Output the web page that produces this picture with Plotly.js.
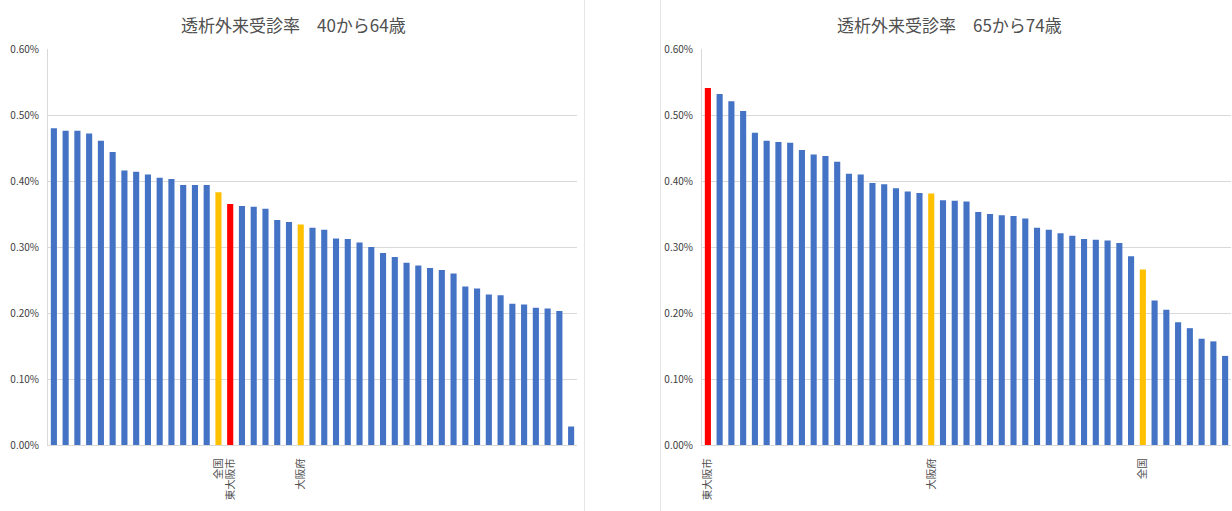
<!DOCTYPE html>
<html>
<head>
<meta charset="utf-8">
<script src="https://cdn.plot.ly/plotly-3.0.1.min.js"></script>
<style>html,body{margin:0;padding:0;background:#fff;}#chart{width:1232px;height:511px;}</style>
</head>
<body>
<div id="chart"></div>
<script>
// ---- Data (values in %) ----
const title1 = '透析外来受診率　40から64歳';
const title2 = '透析外来受診率　65から74歳';

const labels1 = ['', '', '', '', '', '', '', '', '', '', '', '', '', '', '全国', '東大阪市', '', '', '', '', '', '大阪府', '', '', '', '', '', '', '', '', '', '', '', '', '', '', '', '', '', '', '', '', '', '', ''];
const values1 = [0.480, 0.476, 0.476, 0.472, 0.461, 0.444, 0.416, 0.414, 0.410, 0.405, 0.403, 0.394, 0.394, 0.394, 0.383, 0.365, 0.362, 0.361, 0.358, 0.341, 0.338, 0.334, 0.329, 0.326, 0.313, 0.312, 0.307, 0.300, 0.291, 0.285, 0.276, 0.272, 0.268, 0.265, 0.260, 0.240, 0.237, 0.228, 0.227, 0.214, 0.213, 0.208, 0.207, 0.203, 0.028];

const labels2 = ['東大阪市', '', '', '', '', '', '', '', '', '', '', '', '', '', '', '', '', '', '', '大阪府', '', '', '', '', '', '', '', '', '', '', '', '', '', '', '', '', '', '全国', '', '', '', '', '', '', ''];
const values2 = [0.541, 0.532, 0.521, 0.506, 0.473, 0.461, 0.459, 0.458, 0.447, 0.440, 0.438, 0.429, 0.411, 0.410, 0.397, 0.395, 0.389, 0.384, 0.382, 0.381, 0.371, 0.370, 0.369, 0.353, 0.350, 0.348, 0.347, 0.343, 0.329, 0.326, 0.321, 0.317, 0.312, 0.311, 0.310, 0.306, 0.286, 0.266, 0.219, 0.205, 0.186, 0.177, 0.161, 0.157, 0.135];

// ---- Styles ----
const BLUE = '#4472C4', RED = '#FF0000', YELLOW = '#FFC000';
const highlight = {'東大阪市': RED, '全国': YELLOW, '大阪府': YELLOW};
const colorsFor = labels => labels.map(l => highlight[l] || BLUE);
const idx = labels => labels.map((_, i) => i);
const tickIdx = labels => idx(labels).filter(i => labels[i] !== '');
const tickTxt = labels => labels.filter(l => l !== '');

const W = 1232, H = 511;
const px = v => v / W;
const py = v => (H - v) / H;
const FONT = 'Noto Sans CJK JP, Liberation Sans, sans-serif';
const GRID = '#d9d9d9';

function yAxis() {
  return {
    range: [0, 0.6], dtick: 0.1, tickformat: '.2f', ticksuffix: '%',
    showgrid: true, gridcolor: GRID, gridwidth: 1,
    showline: true, linecolor: GRID, linewidth: 1,
    zeroline: false, ticks: '', ticklabelstandoff: 6,
    tickfont: {size: 10, color: '#404040', family: FONT},
    domain: [py(445), py(49)], fixedrange: true
  };
}
function xAxis(domainX, labels, anchor) {
  return {
    domain: domainX, anchor: anchor,
    range: [-0.5, labels.length - 0.5],
    tickmode: 'array', tickvals: tickIdx(labels), ticktext: tickTxt(labels),
    tickangle: -90, ticks: '', ticklabelstandoff: 8,
    showgrid: false, showline: true, linecolor: GRID, linewidth: 1, zeroline: false,
    tickfont: {size: 10.5, color: '#505050', family: FONT}, fixedrange: true
  };
}

const traces = [
  {type: 'bar', x: idx(labels1), y: values1, marker: {color: colorsFor(labels1)}, xaxis: 'x', yaxis: 'y', hoverinfo: 'skip'},
  {type: 'bar', x: idx(labels2), y: values2, marker: {color: colorsFor(labels2)}, xaxis: 'x2', yaxis: 'y2', hoverinfo: 'skip'}
];

const dom1 = [px(48), px(577)];
const dom2 = [px(702), px(1231)];

const layout = {
  width: W, height: H,
  margin: {l: 0, r: 0, t: 0, b: 0},
  paper_bgcolor: '#ffffff', plot_bgcolor: '#ffffff',
  showlegend: false, bargap: 0.48,
  font: {family: FONT, color: '#595959'},
  xaxis: xAxis(dom1, labels1, 'y'),
  yaxis: Object.assign(yAxis(), {anchor: 'x'}),
  xaxis2: xAxis(dom2, labels2, 'y2'),
  yaxis2: Object.assign(yAxis(), {anchor: 'x2'}),
  annotations: [
    {text: title1, xref: 'paper', yref: 'paper', x: px(293), y: py(24), xanchor: 'center', yanchor: 'middle', showarrow: false, font: {size: 17, color: '#505050', family: FONT}},
    {text: title2, xref: 'paper', yref: 'paper', x: px(949), y: py(24), xanchor: 'center', yanchor: 'middle', showarrow: false, font: {size: 17, color: '#505050', family: FONT}}
  ],
  shapes: [
    {type: 'line', xref: 'paper', yref: 'paper', x0: px(584.5), x1: px(584.5), y0: 0, y1: 1, line: {color: '#e6e6e6', width: 1}},
    {type: 'line', xref: 'paper', yref: 'paper', x0: px(660.5), x1: px(660.5), y0: 0, y1: 1, line: {color: '#e6e6e6', width: 1}}
  ]
};

Plotly.newPlot('chart', traces, layout, {displayModeBar: false, staticPlot: true});
</script>
</body>
</html>
